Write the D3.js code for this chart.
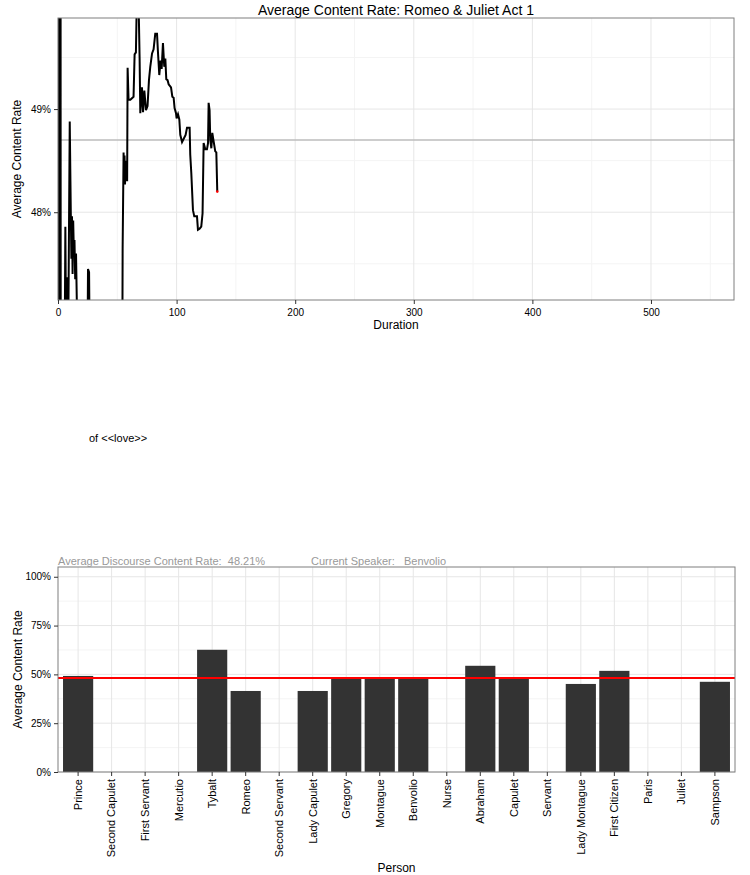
<!DOCTYPE html>
<html>
<head>
<meta charset="utf-8">
<script src="https://cdn.jsdelivr.net/npm/d3@7"></script>
<style>
  html, body { margin: 0; padding: 0; background: #fff; }
  svg { display: block; font-family: "Liberation Sans", Arial, sans-serif; }
  .pre { white-space: pre; }
</style>
</head>
<body>
<svg id="chart" width="750" height="875"></svg>
<script>
// ---------- Data ----------
const lineDuration = [0, 0.5, 1.0, 1.5, 2.0, 2.6, 5.7, 6.2, 6.8, 8.1, 8.7, 9.9, 10.8, 11.3, 11.8, 12.3, 12.8, 13.4, 13.9, 14.5, 15.2, 16.2,
  25.0, 25.3, 26.2, 26.6, 54.3, 54.5, 55.3, 55.7, 56.1, 56.5, 57.0, 57.4, 57.9, 58.3, 58.7, 59.5, 61.0, 63.7, 64.6, 65.7,
  66.5, 68.0, 68.8, 69.4, 70.8, 71.7, 72.8, 74.2, 75.5, 76.7, 77.8, 79.3, 80.6, 82.0, 83.5, 84.3, 85.4, 86.5, 87.4, 88.5,
  89.6, 90.5, 91.3, 92.4, 93.3, 95.3, 96.4, 97.5, 98.3, 99.5, 100.0, 101.2, 102.3, 103.1, 104.6, 105.9, 107.6, 108.8, 111.0, 111.5,
  112.4, 113.8, 114.9, 117.2, 118.0, 119.4, 120.8, 121.9, 122.8, 124.2, 125.6, 126.5, 127.0, 127.8, 128.4, 129.3, 130.1, 131.2, 132.6, 133.5,
  134.3];
const lineRate = [60, 30, 58, 32, 57, 35, 46.8, 47.86, 46.8, 47.37, 46.9, 48.88, 47.99, 47.55, 47.96, 47.4, 47.92, 47.6, 47.73, 47.35, 47.6, 46.9,
  46.9, 47.45, 47.42, 46.9, 46.9, 47.65, 48.58, 48.3, 48.55, 48.27, 48.5, 48.3, 48.45, 48.3, 49.40, 49.09, 49.09, 49.12, 49.53, 49.55,
  50.1, 50.0, 49.5, 48.96, 49.21, 48.97, 49.18, 48.99, 49.03, 49.28, 49.41, 49.54, 49.58, 49.73, 49.73, 49.55, 49.33, 49.47, 49.39, 49.64,
  49.41, 49.49, 49.29, 49.28, 49.24, 49.21, 49.12, 49.11, 49.01, 48.96, 48.91, 48.95, 48.90, 48.75, 48.68, 48.71, 48.75, 48.82, 48.82, 48.56,
  48.38, 48.02, 47.96, 47.96, 47.83, 47.84, 47.86, 47.99, 48.67, 48.61, 48.61, 48.67, 49.06, 48.99, 48.70, 48.62, 48.77, 48.69, 48.59, 48.58,
  48.20];
const overallMeanRate = 48.70;          // grey reference line (percent)
const durationMax = 570;
const topRateDomain = [47.149, 49.883];
const topXTicks = [0, 100, 200, 300, 400, 500];
const topXMinor = [50, 150, 250, 350, 450, 550];
const topYTicks = [48, 49];
const topYMinor = [47.5, 48.5, 49.5];

const persons = ["Prince", "Second Capulet", "First Servant", "Mercutio", "Tybalt", "Romeo", "Second Servant",
  "Lady Capulet", "Gregory", "Montague", "Benvolio", "Nurse", "Abraham", "Capulet", "Servant",
  "Lady Montague", "First Citizen", "Paris", "Juliet", "Sampson"];
const personRate = [0.492, 0, 0, 0, 0.626, 0.415, 0, 0.415, 0.481, 0.481, 0.481, 0, 0.544, 0.481, 0,
  0.451, 0.518, 0, 0, 0.462];
const discourseRate = 0.4821;
const barYTicks = [0, 0.25, 0.5, 0.75, 1.0];
const barYMinor = [0.125, 0.375, 0.625, 0.875];
const currentSpeaker = "Benvolio";
const keyword = "love";

// ---------- Setup ----------
const svg = d3.select("#chart");
const gridMajor = "#e6e6e6", gridMinor = "#f4f4f4", border = "#7f7f7f";

// ================= TOP CHART =================
const T = { left: 58, top: 18, right: 734, bottom: 300 };
const xT = d3.scaleLinear().domain([0, durationMax]).range([T.left, T.right]);
const yT = d3.scaleLinear().domain(topRateDomain).range([T.bottom, T.top]);

const gT = svg.append("g");
gT.selectAll(".vminor").data(topXMinor).join("line")
  .attr("x1", d => xT(d)).attr("x2", d => xT(d)).attr("y1", T.top).attr("y2", T.bottom)
  .attr("stroke", gridMinor).attr("stroke-width", 1);
gT.selectAll(".hminor").data(topYMinor).join("line")
  .attr("y1", d => yT(d)).attr("y2", d => yT(d)).attr("x1", T.left).attr("x2", T.right)
  .attr("stroke", gridMinor).attr("stroke-width", 1);
gT.selectAll(".vmajor").data(topXTicks).join("line")
  .attr("x1", d => xT(d)).attr("x2", d => xT(d)).attr("y1", T.top).attr("y2", T.bottom)
  .attr("stroke", gridMajor).attr("stroke-width", 1);
gT.selectAll(".hmajor").data(topYTicks).join("line")
  .attr("y1", d => yT(d)).attr("y2", d => yT(d)).attr("x1", T.left).attr("x2", T.right)
  .attr("stroke", gridMajor).attr("stroke-width", 1);

svg.append("clipPath").attr("id", "clipTop").append("rect")
  .attr("x", T.left).attr("y", T.top).attr("width", T.right - T.left).attr("height", T.bottom - T.top);

gT.append("line")
  .attr("x1", T.left).attr("x2", T.right).attr("y1", yT(overallMeanRate)).attr("y2", yT(overallMeanRate))
  .attr("stroke", "#bdbdbd").attr("stroke-width", 1.6);

const pts = lineDuration.map((d, i) => [d, lineRate[i]]);
gT.append("path").datum(pts)
  .attr("clip-path", "url(#clipTop)")
  .attr("fill", "none").attr("stroke", "#000").attr("stroke-width", 2).attr("stroke-linejoin", "miter")
  .attr("d", d3.line().x(d => xT(d[0])).y(d => yT(d[1])));
const last = pts[pts.length - 1];
gT.append("circle").attr("cx", xT(last[0])).attr("cy", yT(last[1])).attr("r", 1.3).attr("fill", "red");

gT.append("rect").attr("x", T.left).attr("y", T.top).attr("width", T.right - T.left).attr("height", T.bottom - T.top)
  .attr("fill", "none").attr("stroke", border).attr("stroke-width", 1);

const axTX = gT.append("g").attr("transform", `translate(0,${T.bottom})`)
  .call(d3.axisBottom(xT).tickValues(topXTicks).tickSize(4).tickPadding(5).tickFormat(d3.format("d")));
const axTY = gT.append("g").attr("transform", `translate(${T.left},0)`)
  .call(d3.axisLeft(yT).tickValues(topYTicks).tickSize(4).tickPadding(3).tickFormat(d => d + "%"));
[axTX, axTY].forEach(a => {
  a.select(".domain").remove();
  a.selectAll(".tick line").attr("stroke", "#333");
  a.selectAll("text").attr("font-size", 10).attr("fill", "#000").attr("font-family", "Liberation Sans, Arial, sans-serif");
});

svg.append("text").attr("x", (T.left + T.right) / 2).attr("y", 15).attr("text-anchor", "middle")
  .attr("font-size", 14).attr("fill", "#000").text("Average Content Rate: Romeo & Juliet Act 1");
svg.append("text").attr("x", (T.left + T.right) / 2).attr("y", 329).attr("text-anchor", "middle")
  .attr("font-size", 12).attr("fill", "#000").text("Duration");
svg.append("text").attr("transform", `translate(21,${(T.top + T.bottom) / 2}) rotate(-90)`).attr("text-anchor", "middle")
  .attr("font-size", 12).attr("fill", "#000").text("Average Content Rate");

// ================= MIDDLE TEXT =================
svg.append("text").attr("x", 89).attr("y", 442).attr("font-size", 11).attr("fill", "#000")
  .text("of <<" + keyword + ">>");

// ================= BOTTOM CHART =================
const B = { left: 58, top: 567, right: 735, bottom: 772 };
const unit = (B.right - B.left) / (persons.length - 1 + 1.2);
const xB = d3.scaleBand().domain(persons)
  .range([B.left + 0.1 * unit, B.right - 0.1 * unit]).paddingInner(0.1).paddingOuter(0.05);
const yB = d3.scaleLinear().domain([0, 1.05]).range([B.bottom, B.top]);
const cx = d => xB(d) + xB.bandwidth() / 2;

const gB = svg.append("g");
gB.selectAll(".hminor").data(barYMinor).join("line")
  .attr("y1", d => yB(d)).attr("y2", d => yB(d)).attr("x1", B.left).attr("x2", B.right)
  .attr("stroke", gridMinor).attr("stroke-width", 1);
gB.selectAll(".hmajor").data(barYTicks).join("line")
  .attr("y1", d => yB(d)).attr("y2", d => yB(d)).attr("x1", B.left).attr("x2", B.right)
  .attr("stroke", gridMajor).attr("stroke-width", 1);
gB.selectAll(".vmajor").data(persons).join("line")
  .attr("x1", d => cx(d)).attr("x2", d => cx(d)).attr("y1", B.top).attr("y2", B.bottom)
  .attr("stroke", gridMajor).attr("stroke-width", 1);

gB.selectAll(".bar").data(persons.map((p, i) => ({ p, v: personRate[i] }))).join("rect")
  .attr("x", d => cx(d.p) - unit * 0.45).attr("width", unit * 0.9)
  .attr("y", d => yB(d.v)).attr("height", d => yB(0) - yB(d.v))
  .attr("fill", "#333333");

gB.append("line").attr("x1", B.left).attr("x2", B.right)
  .attr("y1", yB(discourseRate)).attr("y2", yB(discourseRate))
  .attr("stroke", "#ff0000").attr("stroke-width", 2);

gB.append("rect").attr("x", B.left).attr("y", B.top).attr("width", B.right - B.left).attr("height", B.bottom - B.top)
  .attr("fill", "none").attr("stroke", border).attr("stroke-width", 1);

const axBX = gB.append("g").attr("transform", `translate(0,${B.bottom})`)
  .call(d3.axisBottom(xB).tickSize(4).tickPadding(3));
axBX.selectAll(".tick").attr("transform", d => `translate(${cx(d)},0)`);
axBX.selectAll(".tick text")
  .attr("transform", "rotate(-90)").attr("text-anchor", "end")
  .attr("x", -7).attr("y", 0).attr("dy", "0.35em");
const axBY = gB.append("g").attr("transform", `translate(${B.left},0)`)
  .call(d3.axisLeft(yB).tickValues(barYTicks).tickSize(4).tickPadding(3).tickFormat(d => Math.round(d * 100) + "%"));
[axBX, axBY].forEach(a => {
  a.select(".domain").remove();
  a.selectAll(".tick line").attr("stroke", "#333");
  a.selectAll("text").attr("fill", "#000").attr("font-family", "Liberation Sans, Arial, sans-serif");
});
axBX.selectAll("text").attr("font-size", 11);
axBY.selectAll("text").attr("font-size", 10);

svg.append("text").attr("class", "pre").attr("x", B.left).attr("y", 565).attr("font-size", 11).attr("fill", "#999")
  .text("Average Discourse Content Rate:  " + (discourseRate * 100).toFixed(2) + "%");
svg.append("text").attr("class", "pre").attr("x", 311).attr("y", 565).attr("font-size", 11).attr("fill", "#999")
  .text("Current Speaker:   " + currentSpeaker);

svg.append("text").attr("x", (B.left + B.right) / 2).attr("y", 872).attr("text-anchor", "middle")
  .attr("font-size", 12).attr("fill", "#000").text("Person");
svg.append("text").attr("transform", `translate(22,${(B.top + B.bottom) / 2}) rotate(-90)`).attr("text-anchor", "middle")
  .attr("font-size", 12).attr("fill", "#000").text("Average Content Rate");
</script>
</body>
</html>
